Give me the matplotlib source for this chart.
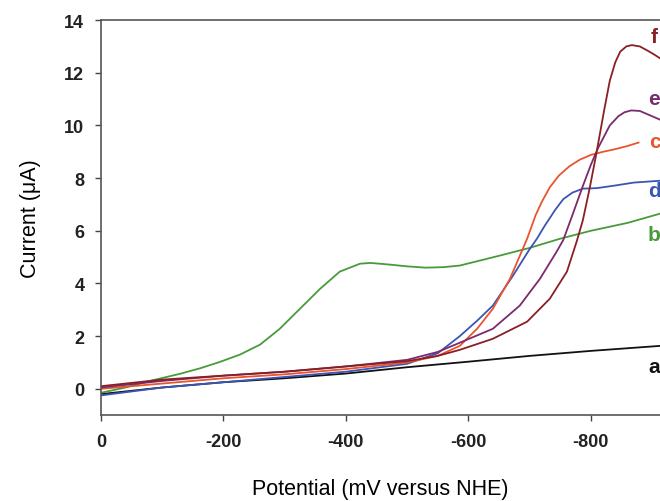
import matplotlib.pyplot as plt

plt.rcParams["font.family"] = ["Liberation Sans", "DejaVu Sans"]
plt.rcParams["axes.unicode_minus"] = False

# potential (mV) / current (uA)
a_x = [0, -100, -200, -300, -400, -500, -600, -650, -700, -800, -913]
a_y = [-0.2, 0.05, 0.25, 0.4, 0.58, 0.82, 1.03, 1.14, 1.25, 1.44, 1.63]

b_x = [0, -40, -80, -129, -162, -194, -227, -260, -292, -325, -358, -390, -423, -440,
       -470, -500, -530, -560, -586, -650, -700, -750, -800, -860, -913]
b_y = [-0.15, 0.05, 0.3, 0.57, 0.78, 1.02, 1.3, 1.68, 2.28, 3.04, 3.8, 4.45, 4.75, 4.78,
       4.72, 4.65, 4.6, 4.62, 4.68, 5.05, 5.35, 5.7, 6.0, 6.3, 6.65]

c_x = [0, -100, -200, -300, -400, -500, -550, -586, -615, -640, -668, -696, -710, -720, -733,
       -748, -765, -782, -800, -820, -840, -860, -878]
c_y = [0.0, 0.2, 0.4, 0.55, 0.75, 1.0, 1.25, 1.63, 2.3, 3.04, 4.18, 5.7, 6.6, 7.1, 7.65,
       8.1, 8.45, 8.7, 8.88, 9.0, 9.1, 9.22, 9.35]

d_x = [0, -100, -200, -300, -400, -500, -550, -586, -615, -640, -673, -700, -712, -725, -742,
       -755, -770, -787, -810, -840, -870, -913]
d_y = [-0.25, 0.05, 0.25, 0.45, 0.65, 0.95, 1.35, 2.0, 2.6, 3.16, 4.3, 5.3, 5.7, 6.2, 6.8,
       7.2, 7.45, 7.6, 7.62, 7.72, 7.83, 7.9]

e_x = [0, -100, -200, -300, -400, -500, -550, -586, -640, -684, -717, -744, -755, -770, -787,
       -800, -812, -831, -845, -855, -866, -880, -895, -913]
e_y = [0.05, 0.3, 0.5, 0.65, 0.85, 1.1, 1.4, 1.75, 2.28, 3.16, 4.18, 5.2, 5.65, 6.6, 7.7,
       8.5, 9.15, 10.0, 10.35, 10.5, 10.57, 10.55, 10.4, 10.22]

f_x = [0, -100, -200, -300, -400, -500, -550, -586, -640, -696, -733, -761, -777, -787, -798,
       -808, -815, -822, -831, -840, -848, -858, -867, -880, -892, -903, -913]
f_y = [0.1, 0.35, 0.5, 0.65, 0.85, 1.05, 1.25, 1.48, 1.9, 2.55, 3.42, 4.45, 5.6, 6.4, 7.6,
       8.8, 9.7, 10.6, 11.7, 12.4, 12.8, 13.0, 13.05, 13.0, 12.85, 12.7, 12.55]

curves = [
    ("a", a_x, a_y, "#111111", 0.84),
    ("b", b_x, b_y, "#4a9a3c", 5.86),
    ("d", d_x, d_y, "#3a55b4", 7.53),
    ("c", c_x, c_y, "#e8552e", 9.39),
    ("e", e_x, e_y, "#7b2a6e", 11.03),
    ("f", f_x, f_y, "#8a1f24", 13.38),
]

fig = plt.figure(figsize=(6.6, 5.02), dpi=100)
ax = fig.add_axes([0.153, 0.171, 0.847, 0.787])

for name, xs, ys, col, ly in curves:
    ax.plot(xs, ys, color=col, lw=1.3, solid_joinstyle="round")
    ax.text(-904, ly, name, color=col, fontsize=15, fontweight="bold",
            ha="center", va="center")

ax.set_xlim(0, -913)
ax.set_ylim(-1, 14)
ax.set_xticks([0, -200, -400, -600, -800])
ax.set_yticks([0, 2, 4, 6, 8, 10, 12, 14])
ax.tick_params(direction="out", length=4, width=1, color="#444444",
               labelsize=13)
ax.tick_params(axis="x", pad=9)
ax.tick_params(axis="y", pad=8)
for lab in ax.get_xticklabels() + ax.get_yticklabels():
    lab.set_fontweight("bold")
    lab.set_color("#222222")

ax.spines["right"].set_visible(False)
for s in ["left", "bottom", "top"]:
    ax.spines[s].set_color("#555555")
    ax.spines[s].set_linewidth(1.2)

ax.set_xlabel("Potential (mV versus NHE)", fontsize=15.5, labelpad=20)
ax.set_ylabel("Current (\u03bcA)", fontsize=15.5, labelpad=17)

fig.savefig("out.png", dpi=100)
